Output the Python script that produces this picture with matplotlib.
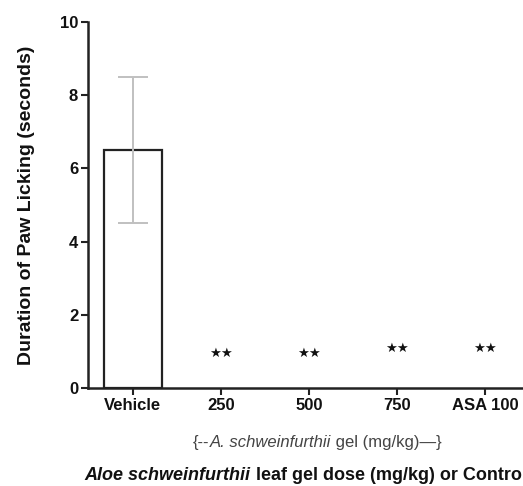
import numpy as np
import matplotlib.pyplot as plt

plt.rcParams['font.family'] = ['Liberation Sans', 'DejaVu Sans']

groups = ['Vehicle', '250', '500', '750', 'ASA 100']
means = [6.5, 0.0, 0.0, 0.0, 0.0]
sems = [2.0, 0.0, 0.0, 0.0, 0.0]
marks = ['', '★★', '★★', '★★', '★★']
mark_y = [0, 0.95, 0.95, 1.07, 1.07]

fig = plt.figure(figsize=(5.23, 4.86), dpi=100)
ax = fig.add_axes([0.168, 0.2016, 0.86, 0.7531])

x = np.arange(len(groups))
ax.bar(x[:1], means[:1], width=0.66, color='white', edgecolor='#222222', linewidth=1.6, zorder=2)
ax.errorbar(x[:1], means[:1], yerr=sems[:1], fmt='none', ecolor='#c0c0c0',
            elinewidth=1.4, capsize=10.5, capthick=1.4, zorder=3)
for xi, m, my in zip(x, marks, mark_y):
    if m:
        ax.text(xi, my, m, ha='center', va='center', fontsize=9.5, color='#111111',
                family='DejaVu Sans')

ax.set_xlim(-0.51, 4.6)
ax.set_ylim(0, 10)
ax.set_yticks([0, 2, 4, 6, 8, 10])
ax.set_xticks(x)
ax.set_xticklabels(groups, fontsize=12, fontweight='bold', color='#111111')
for lab in ax.get_yticklabels():
    lab.set_fontsize(12)
    lab.set_fontweight('bold')
    lab.set_color('#111111')
ax.spines['top'].set_visible(False)
ax.spines['right'].set_visible(False)
for s in ['left', 'bottom']:
    ax.spines[s].set_linewidth(1.8)
    ax.spines[s].set_color('#222222')
ax.tick_params(axis='both', length=5, width=1.5, color='#222222', pad=2)
ax.set_ylabel('Duration of Paw Licking (seconds)', fontsize=14, fontweight='bold',
              labelpad=18, color='#111111')

# subtitle under the dose groups
t1 = fig.text(0.369, 0.080, '{--', fontsize=12, color='#444444', va='baseline')
t2 = ax.annotate('A. schweinfurthii', xy=(1, 0), xycoords=t1, fontsize=12, style='italic',
                 color='#444444', va='bottom')
ax.annotate(' gel (mg/kg)—}', xy=(1, 0), xycoords=t2, fontsize=12, color='#444444', va='bottom')

# main x label
l1 = fig.text(0.162, 0.012, 'Aloe schweinfurthii', fontsize=13, style='italic', fontweight='bold',
              va='baseline', color='#111111')
ax.annotate(' leaf gel dose (mg/kg) or Control', xy=(1, 0), xycoords=l1, fontsize=13,
            fontweight='bold', va='bottom', color='#111111')

fig.savefig('out.png', dpi=100)
